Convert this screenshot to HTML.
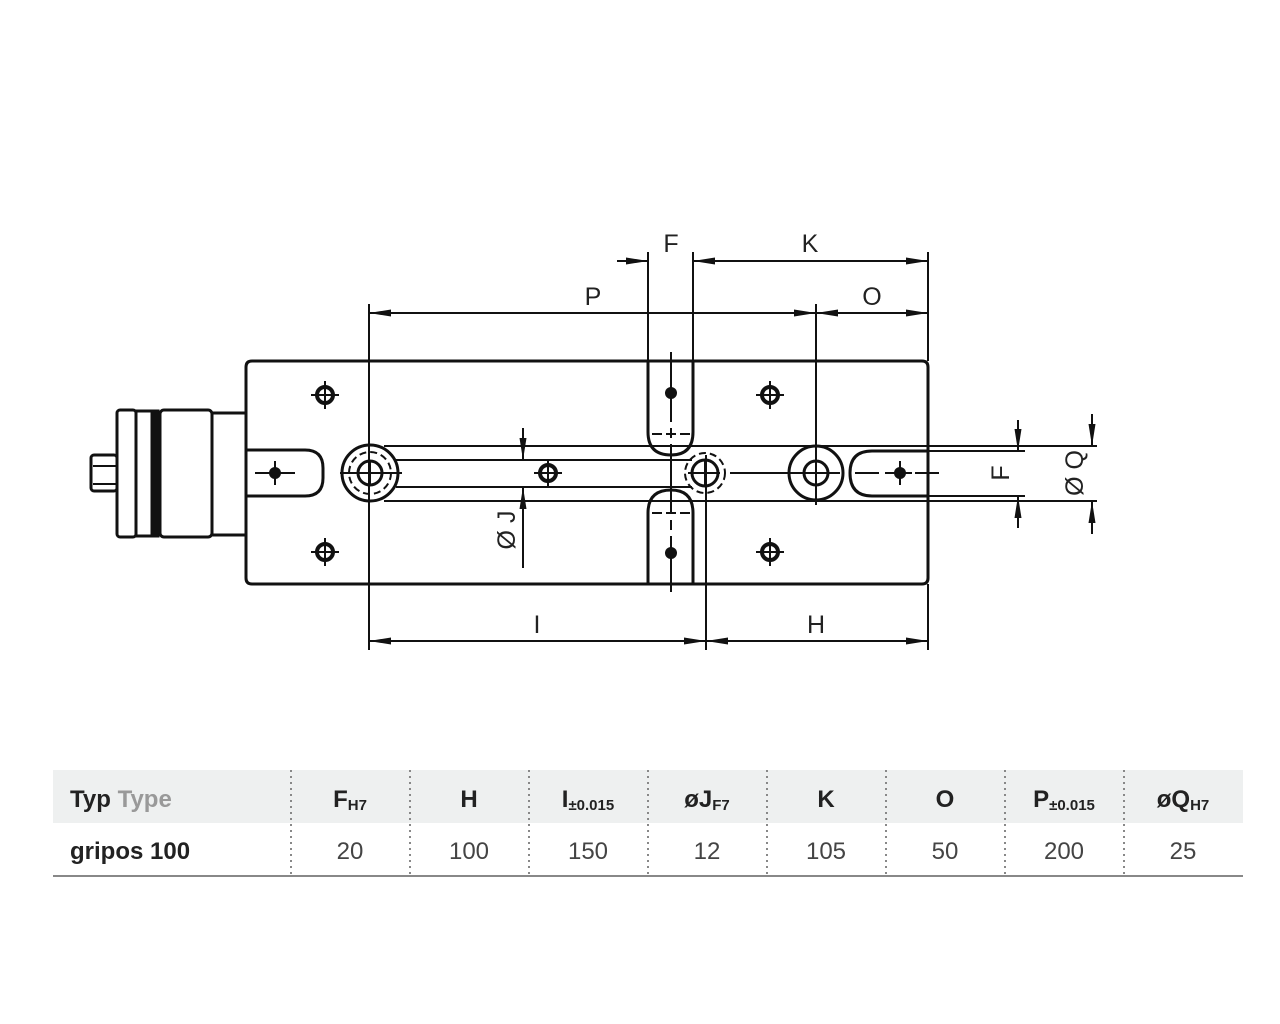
<!DOCTYPE html>
<html><head><meta charset="utf-8"><style>
body{margin:0;background:#fff;width:1280px;height:1024px;overflow:hidden;font-family:"Liberation Sans",sans-serif}
svg{position:absolute;left:0;top:0}
</style></head><body>
<svg width="1280" height="1024" viewBox="0 0 1280 1024">
<defs>
<marker id="a" viewBox="0 0 22 8" refX="22" refY="4" markerWidth="22" markerHeight="8" markerUnits="userSpaceOnUse" orient="auto-start-reverse"><path d="M0,0.5 L22,4 L0,7.5 Z" fill="#111"/></marker>
</defs>
<g fill="none" stroke="#111" stroke-width="3">
<!-- motor -->
<rect x="91" y="455" width="26" height="36" rx="3"/>
<line x1="93" y1="466" x2="117" y2="466" stroke-width="2"/><line x1="93" y1="484" x2="117" y2="484" stroke-width="2"/>
<rect x="117" y="410" width="19" height="127" rx="3"/>
<rect x="136" y="411" width="22" height="125"/>
<line x1="154" y1="411" x2="154" y2="536" stroke-width="7"/>
<rect x="160" y="410" width="52" height="127" rx="4"/>
<rect x="212" y="413" width="34" height="122"/>
<!-- body -->
<path d="M252,361 H922 Q928,361 928,367 V578 Q928,584 922,584 H252 Q246,584 246,578 V367 Q246,361 252,361 Z"/>
<path d="M246,450 H305 Q323,450 323,468 V478 Q323,496 305,496 H246"/>
<path d="M928,451 H872 Q850,451 850,473 Q850,496 872,496 H928"/>
<path d="M648,361 V432 Q648,455 671,455 Q693,455 693,432 V361"/>
<path d="M648,584 V513 Q648,490 671,490 Q693,490 693,513 V584"/>
<circle cx="370" cy="473" r="28"/><circle cx="370" cy="473" r="12"/>
<circle cx="816" cy="473" r="27"/><circle cx="816" cy="473" r="12"/>
<circle cx="705" cy="473" r="13"/>
</g>
<g fill="none" stroke="#111" stroke-width="2">
<circle cx="370" cy="473" r="21" stroke-dasharray="7 4"/>
<circle cx="705" cy="473" r="20" stroke-dasharray="7 4"/>
<line x1="384" y1="446" x2="1097" y2="446"/>
<line x1="384" y1="501" x2="1097" y2="501"/>
<line x1="396" y1="460" x2="692" y2="460"/>
<line x1="396" y1="487" x2="692" y2="487"/>
<line x1="928" y1="451" x2="1025" y2="451"/>
<line x1="928" y1="496" x2="1025" y2="496"/>
<line x1="255" y1="473" x2="295" y2="473"/>
<line x1="340" y1="473" x2="402" y2="473"/>
<line x1="688" y1="473" x2="720" y2="473"/>
<line x1="730" y1="473" x2="840" y2="473"/>
<line x1="855" y1="473" x2="940" y2="473" stroke-dasharray="24 6"/>
<line x1="671" y1="352" x2="671" y2="592" stroke-dasharray="70 6 10 6"/>
<line x1="652" y1="434" x2="690" y2="434" stroke-dasharray="10 4"/>
<line x1="652" y1="513" x2="690" y2="513" stroke-dasharray="10 4"/>
<line x1="648" y1="252" x2="648" y2="361"/>
<line x1="693" y1="252" x2="693" y2="361"/>
<line x1="928" y1="252" x2="928" y2="361"/>
<line x1="369" y1="304" x2="369" y2="650"/>
<line x1="816" y1="304" x2="816" y2="505"/>
<line x1="706" y1="455" x2="706" y2="650"/>
<line x1="928" y1="584" x2="928" y2="650"/>
<line x1="617" y1="261" x2="648" y2="261" marker-end="url(#a)"/>
<line x1="693" y1="261" x2="928" y2="261" marker-start="url(#a)" marker-end="url(#a)"/>
<line x1="369" y1="313" x2="816" y2="313" marker-start="url(#a)" marker-end="url(#a)"/>
<line x1="816" y1="313" x2="928" y2="313" marker-start="url(#a)" marker-end="url(#a)"/>
<line x1="369" y1="641" x2="706" y2="641" marker-start="url(#a)" marker-end="url(#a)"/>
<line x1="706" y1="641" x2="928" y2="641" marker-start="url(#a)" marker-end="url(#a)"/>
<line x1="523" y1="428" x2="523" y2="460" marker-end="url(#a)"/>
<line x1="523" y1="568" x2="523" y2="487" marker-end="url(#a)"/>
<line x1="1018" y1="420" x2="1018" y2="451" marker-end="url(#a)"/>
<line x1="1018" y1="528" x2="1018" y2="496" marker-end="url(#a)"/>
<line x1="1092" y1="414" x2="1092" y2="446" marker-end="url(#a)"/>
<line x1="1092" y1="534" x2="1092" y2="501" marker-end="url(#a)"/>
</g>
<g fill="none" stroke="#111">
<g stroke-width="4"><circle cx="325" cy="395" r="8"/><circle cx="325" cy="552" r="8"/><circle cx="770" cy="395" r="8"/><circle cx="770" cy="552" r="8"/><circle cx="548" cy="473" r="8"/></g>
<path stroke-width="2" d="M311,395h28M325,381v28M311,552h28M325,538v28M756,395h28M770,381v28M756,552h28M770,538v28M534,473h28M548,459v28M357,473h26M370,460v26M693,473h24M705,461v24M803,473h26M816,460v26"/>
<g fill="#111" stroke="none"><circle cx="275" cy="473" r="6"/><circle cx="671" cy="393" r="6"/><circle cx="671" cy="553" r="6"/><circle cx="900" cy="473" r="6"/></g>
<path stroke-width="2" d="M263,473h24M275,461v24M888,473h24M900,461v24"/>
</g>
<g font-family="Liberation Sans, sans-serif" font-size="25" fill="#222" text-anchor="middle">
<text x="671" y="252">F</text><text x="810" y="252">K</text>
<text x="593" y="305">P</text><text x="872" y="305">O</text>
<text x="537" y="633">I</text><text x="816" y="633">H</text>
<text transform="translate(515,530) rotate(-90)">Ø J</text>
<text transform="translate(1009,473) rotate(-90)">F</text>
<text transform="translate(1083,473) rotate(-90)">Ø Q</text>
</g>
<rect x="53" y="770" width="1190" height="53" fill="#eef0f0"/>
<line x1="53" y1="876" x2="1243" y2="876" stroke="#888" stroke-width="2"/>
<g stroke="#888" stroke-width="2" stroke-dasharray="2 4">
<line x1="291" y1="770" x2="291" y2="876"/><line x1="410" y1="770" x2="410" y2="876"/><line x1="529" y1="770" x2="529" y2="876"/><line x1="648" y1="770" x2="648" y2="876"/><line x1="767" y1="770" x2="767" y2="876"/><line x1="886" y1="770" x2="886" y2="876"/><line x1="1005" y1="770" x2="1005" y2="876"/><line x1="1124" y1="770" x2="1124" y2="876"/>
</g>
<g font-family="Liberation Sans, sans-serif" font-size="24" fill="#222">
<text x="70" y="807" font-weight="bold">Typ <tspan fill="#999">Type</tspan></text>
<text x="70" y="859" font-weight="bold">gripos 100</text>
<g text-anchor="middle" font-weight="bold">
<text x="350" y="807">F<tspan font-size="15" dy="3">H7</tspan></text>
<text x="469" y="807">H</text>
<text x="588" y="807">I<tspan font-size="15" dy="3">±0.015</tspan></text>
<text x="707" y="807">øJ<tspan font-size="15" dy="3">F7</tspan></text>
<text x="826" y="807">K</text>
<text x="945" y="807">O</text>
<text x="1064" y="807">P<tspan font-size="15" dy="3">±0.015</tspan></text>
<text x="1183" y="807">øQ<tspan font-size="15" dy="3">H7</tspan></text>
</g>
<g text-anchor="middle" fill="#444">
<text x="350" y="859">20</text><text x="469" y="859">100</text><text x="588" y="859">150</text><text x="707" y="859">12</text><text x="826" y="859">105</text><text x="945" y="859">50</text><text x="1064" y="859">200</text><text x="1183" y="859">25</text>
</g>
</g>
</svg>
</body></html>
